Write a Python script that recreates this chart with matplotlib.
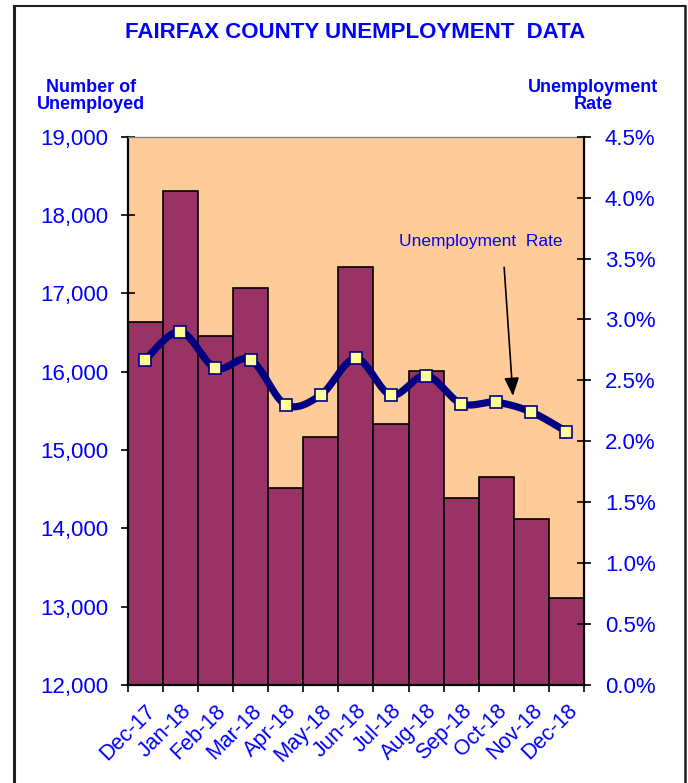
import numpy as np
import matplotlib
matplotlib.use("Agg")
import matplotlib.pyplot as plt
from matplotlib.lines import Line2D
from matplotlib.ticker import FuncFormatter, MultipleLocator

plt.rcParams['font.family'] = ['Liberation Sans', 'DejaVu Sans']

months = ["Dec-17", "Jan-18", "Feb-18", "Mar-18", "Apr-18", "May-18", "Jun-18",
          "Jul-18", "Aug-18", "Sep-18", "Oct-18", "Nov-18", "Dec-18"]
unemployed = [16640, 18310, 16460, 17070, 14520, 15170, 17340,
              15330, 16010, 14390, 14660, 14120, 13110]
rate = [2.67, 2.90, 2.60, 2.67, 2.30, 2.38, 2.68, 2.38, 2.54, 2.31, 2.32, 2.24, 2.08]

BLUE = "#0000FF"
NAVY = "#000080"

fig = plt.figure(figsize=(6.88, 7.83), dpi=100)
ax = fig.add_axes([127.7 / 688, 1 - 685 / 783, (584 - 127.7) / 688, (685 - 136.7) / 783])
ax.set_facecolor("#FFCC99")

x = np.arange(len(months))
ax.bar(x, unemployed, width=1.0, color="#993366", edgecolor="black", linewidth=1.2, zorder=2)
ax.set_xlim(-0.5, len(months) - 0.5)
ax.set_ylim(12000, 19000)
ax.yaxis.set_major_locator(MultipleLocator(1000))
ax.yaxis.set_major_formatter(FuncFormatter(lambda v, p: f"{int(v):,}"))
ax.tick_params(axis='y', direction='inout', length=10, width=1.2, colors='black',
               labelcolor=BLUE, labelsize=16, pad=9)
ax.set_xticks(x)
ax.set_xticklabels(months, rotation=45, ha='right', va='top', rotation_mode='anchor',
                   color=BLUE, fontsize=15.5)
ax.tick_params(axis='x', which='major', length=0, pad=11)
ax.set_xticks(np.arange(-0.5, len(months)), minor=True)
ax.tick_params(axis='x', which='minor', direction='out', length=5, width=1.2)
for s in ['left', 'bottom']:
    ax.spines[s].set_linewidth(1.6)
    ax.spines[s].set_color('black')
ax.spines['top'].set_color('#808080')
ax.spines['top'].set_linewidth(1.0)
ax.spines['right'].set_visible(False)

ax2 = ax.twinx()
ax2.set_ylim(0, 4.5)
ax2.yaxis.set_major_locator(MultipleLocator(0.5))
ax2.yaxis.set_major_formatter(FuncFormatter(lambda v, p: f"{v:.1f}%"))
ax2.tick_params(axis='y', direction='inout', length=10, width=1.2, colors='black',
                labelcolor=BLUE, labelsize=16, pad=10)
for s in ['left', 'top', 'bottom']:
    ax2.spines[s].set_visible(False)
ax2.spines['right'].set_linewidth(1.6)
ax2.spines['right'].set_color('black')

# smoothed line (Catmull-Rom through the data points)
xs = x.astype(float)
ys = np.array(rate, dtype=float)
px = np.concatenate([[xs[0]], xs, [xs[-1]]])
py = np.concatenate([[ys[0]], ys, [ys[-1]]])
cx, cy = [], []
t = np.linspace(0, 1, 25)
for i in range(1, len(px) - 2):
    p0, p1, p2, p3 = [np.array([px[j], py[j]]) for j in (i - 1, i, i + 1, i + 2)]
    b1 = p1 + (p2 - p0) / 6
    b2 = p2 - (p3 - p1) / 6
    seg = ((1 - t)[:, None] ** 3 * p1 + 3 * ((1 - t) ** 2 * t)[:, None] * b1
           + 3 * ((1 - t) * t ** 2)[:, None] * b2 + (t ** 3)[:, None] * p2)
    cx.extend(seg[:, 0]); cy.extend(seg[:, 1])
ax2.plot(cx, cy, color=NAVY, linewidth=5.2, solid_capstyle='round', zorder=3)
ax2.plot(xs, ys, linestyle='none', marker='s', markersize=9, markerfacecolor="#FFFF99",
         markeredgecolor=NAVY, markeredgewidth=1.2, zorder=4)

ax2.annotate("", xy=(10.48, 2.35), xytext=(10.22, 3.45),
             arrowprops=dict(arrowstyle='-|>,head_length=1.1,head_width=0.45',
                             color='black', lw=1.2))
ax2.text(9.55, 3.64, "Unemployment  Rate", color=BLUE, fontsize=12.5,
         ha='center', va='center')

fig.text(355 / 688, 1 - 33 / 783, "FAIRFAX COUNTY UNEMPLOYMENT  DATA", color=BLUE,
         fontsize=16, fontweight='bold', ha='center', va='center')
fig.text(91 / 688, 1 - 96 / 783, "Number of\nUnemployed", color=BLUE, fontsize=13,
         fontweight='bold', ha='center', va='center', linespacing=1.0)
fig.text(593 / 688, 1 - 96 / 783, "Unemployment\nRate", color=BLUE, fontsize=13,
         fontweight='bold', ha='center', va='center', linespacing=1.0)

# outer frame
L, R, T = 14 / 688, 685 / 688, 1 - 6 / 783
fig.add_artist(Line2D([L, L], [0, T], transform=fig.transFigure, color='#202020', lw=2.2))
fig.add_artist(Line2D([L, R], [T, T], transform=fig.transFigure, color='#202020', lw=1.5))
fig.add_artist(Line2D([R, R], [0, T], transform=fig.transFigure, color='#202020', lw=1.8))

fig.savefig("out.png", dpi=100)
